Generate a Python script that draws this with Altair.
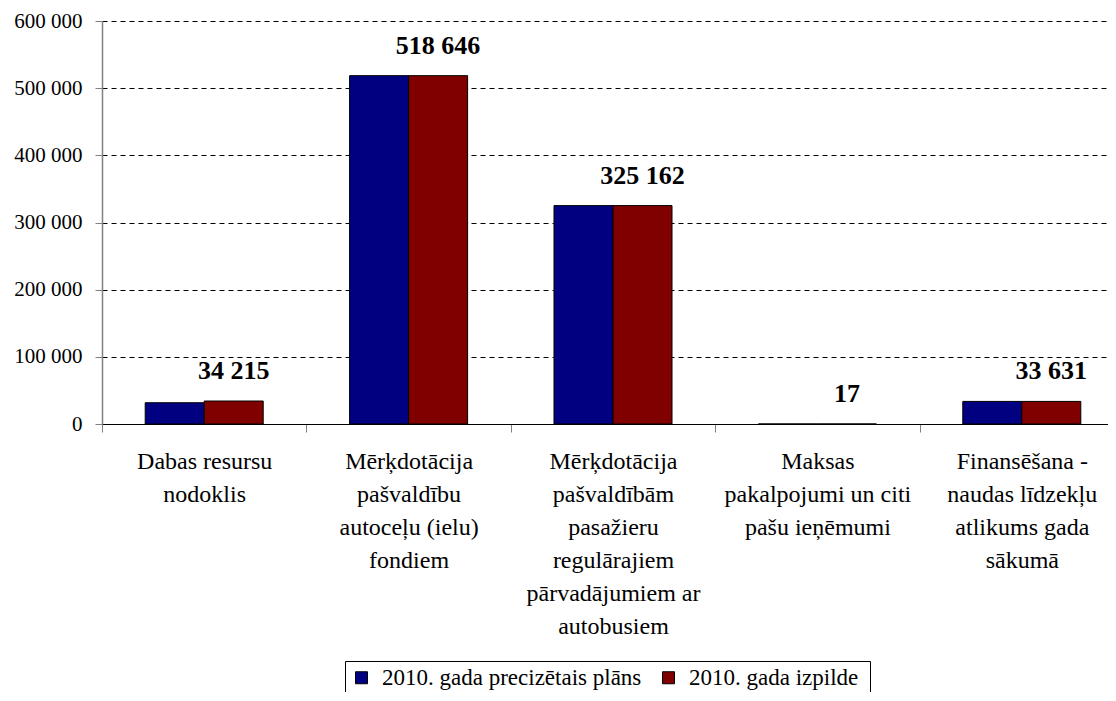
import altair as alt
import pandas as pd

categories = [
    "Dabas resursu\nnodoklis",
    "Mērķdotācija\npašvaldību\nautoceļu (ielu)\nfondiem",
    "Mērķdotācija\npašvaldībām\npasažieru\nregulārajiem\npārvadājumiem ar\nautobusiem",
    "Maksas\npakalpojumi un citi\npašu ieņēmumi",
    "Finansēšana -\nnaudas līdzekļu\natlikums gada\nsākumā",
]
series = ["2010. gada precizētais plāns", "2010. gada  izpilde"]
plan = [31700, 518646, 325162, 17, 33631]
actual = [34215, 518646, 325162, 17, 33631]
y_ticks = [0, 100000, 200000, 300000, 400000, 500000, 600000]
colors = ["#000080", "#800000"]

rows = []
for c, p, a in zip(categories, plan, actual):
    rows.append({"cat": c, "series": series[0], "value": p})
    rows.append({"cat": c, "series": series[1], "value": a})
df = pd.DataFrame(rows)

FONT = "'Liberation Serif', 'Times New Roman', serif"

x = alt.X(
    "cat:N",
    sort=categories,
    scale=alt.Scale(paddingInner=0, paddingOuter=0),
    axis=alt.Axis(
        title=None,
        labelAngle=0,
        labelExpr="isString(datum.value) ? split(datum.value, '\\n') : ''",
        labelFont=FONT,
        labelFontSize=24,
        labelColor="black",
        labelLineHeight=33,
        labelPadding=17,
        labelBaseline="top",
        tickBand="extent",
        tickSize=8,
        tickColor="#808080",
        domainColor="black",
        labelLimit=0,
    ),
)
xo = alt.XOffset(
    "series:N", sort=series, scale=alt.Scale(paddingOuter=0.732, paddingInner=0)
)
y = alt.Y(
    "value:Q",
    scale=alt.Scale(domain=[0, 600000], nice=False),
    axis=alt.Axis(
        title=None,
        values=y_ticks,
        labelExpr="replace(format(datum.value, ','), ',', ' ')",
        labelFont=FONT,
        labelFontSize=21,
        labelColor="black",
        labelPadding=13,
        tickSize=7,
        tickColor="#808080",
        domainColor="#808080",
        domainWidth=1.5,
        grid=True,
        gridDash=[5, 4],
        gridColor="black",
        gridWidth=1,
    ),
)

bars = alt.Chart(df).mark_bar(stroke="black", strokeWidth=1).encode(
    x=x,
    xOffset=xo,
    y=y,
    color=alt.Color(
        "series:N",
        sort=series,
        scale=alt.Scale(domain=series, range=colors),
        legend=alt.Legend(
            title=None,
            orient="none",
            legendX=243,
            legendY=640,
            direction="horizontal",
            strokeColor="black",
            fillColor="white",
            padding=5,
            symbolType="square",
            symbolSize=144,
            symbolStrokeColor="black",
            symbolStrokeWidth=1,
            labelFont=FONT,
            labelFontSize=23,
            labelColor="black",
            labelOffset=9,
            columnPadding=15,
            labelLimit=0,
        ),
    ),
)

labels = (
    alt.Chart(df)
    .transform_filter(alt.datum.series == series[1])
    .transform_calculate(label="replace(format(datum.value, ','), ',', ' ')")
    .mark_text(
        dy=-17,
        baseline="bottom",
        fontWeight="bold",
        fontSize=26,
        font=FONT,
        color="black",
    )
    .encode(x=x, xOffset=xo, y=y, text="label:N")
)

chart = (
    alt.layer(bars, labels)
    .properties(
        width=1022,
        height=403,
        autosize=alt.AutoSizeParams(type="none"),
        padding={"left": 94, "top": 13, "right": -16, "bottom": 268},
    )
    .configure_view(stroke=None)
)

chart.save("out.html", embed_options={"renderer": "svg", "actions": False})
